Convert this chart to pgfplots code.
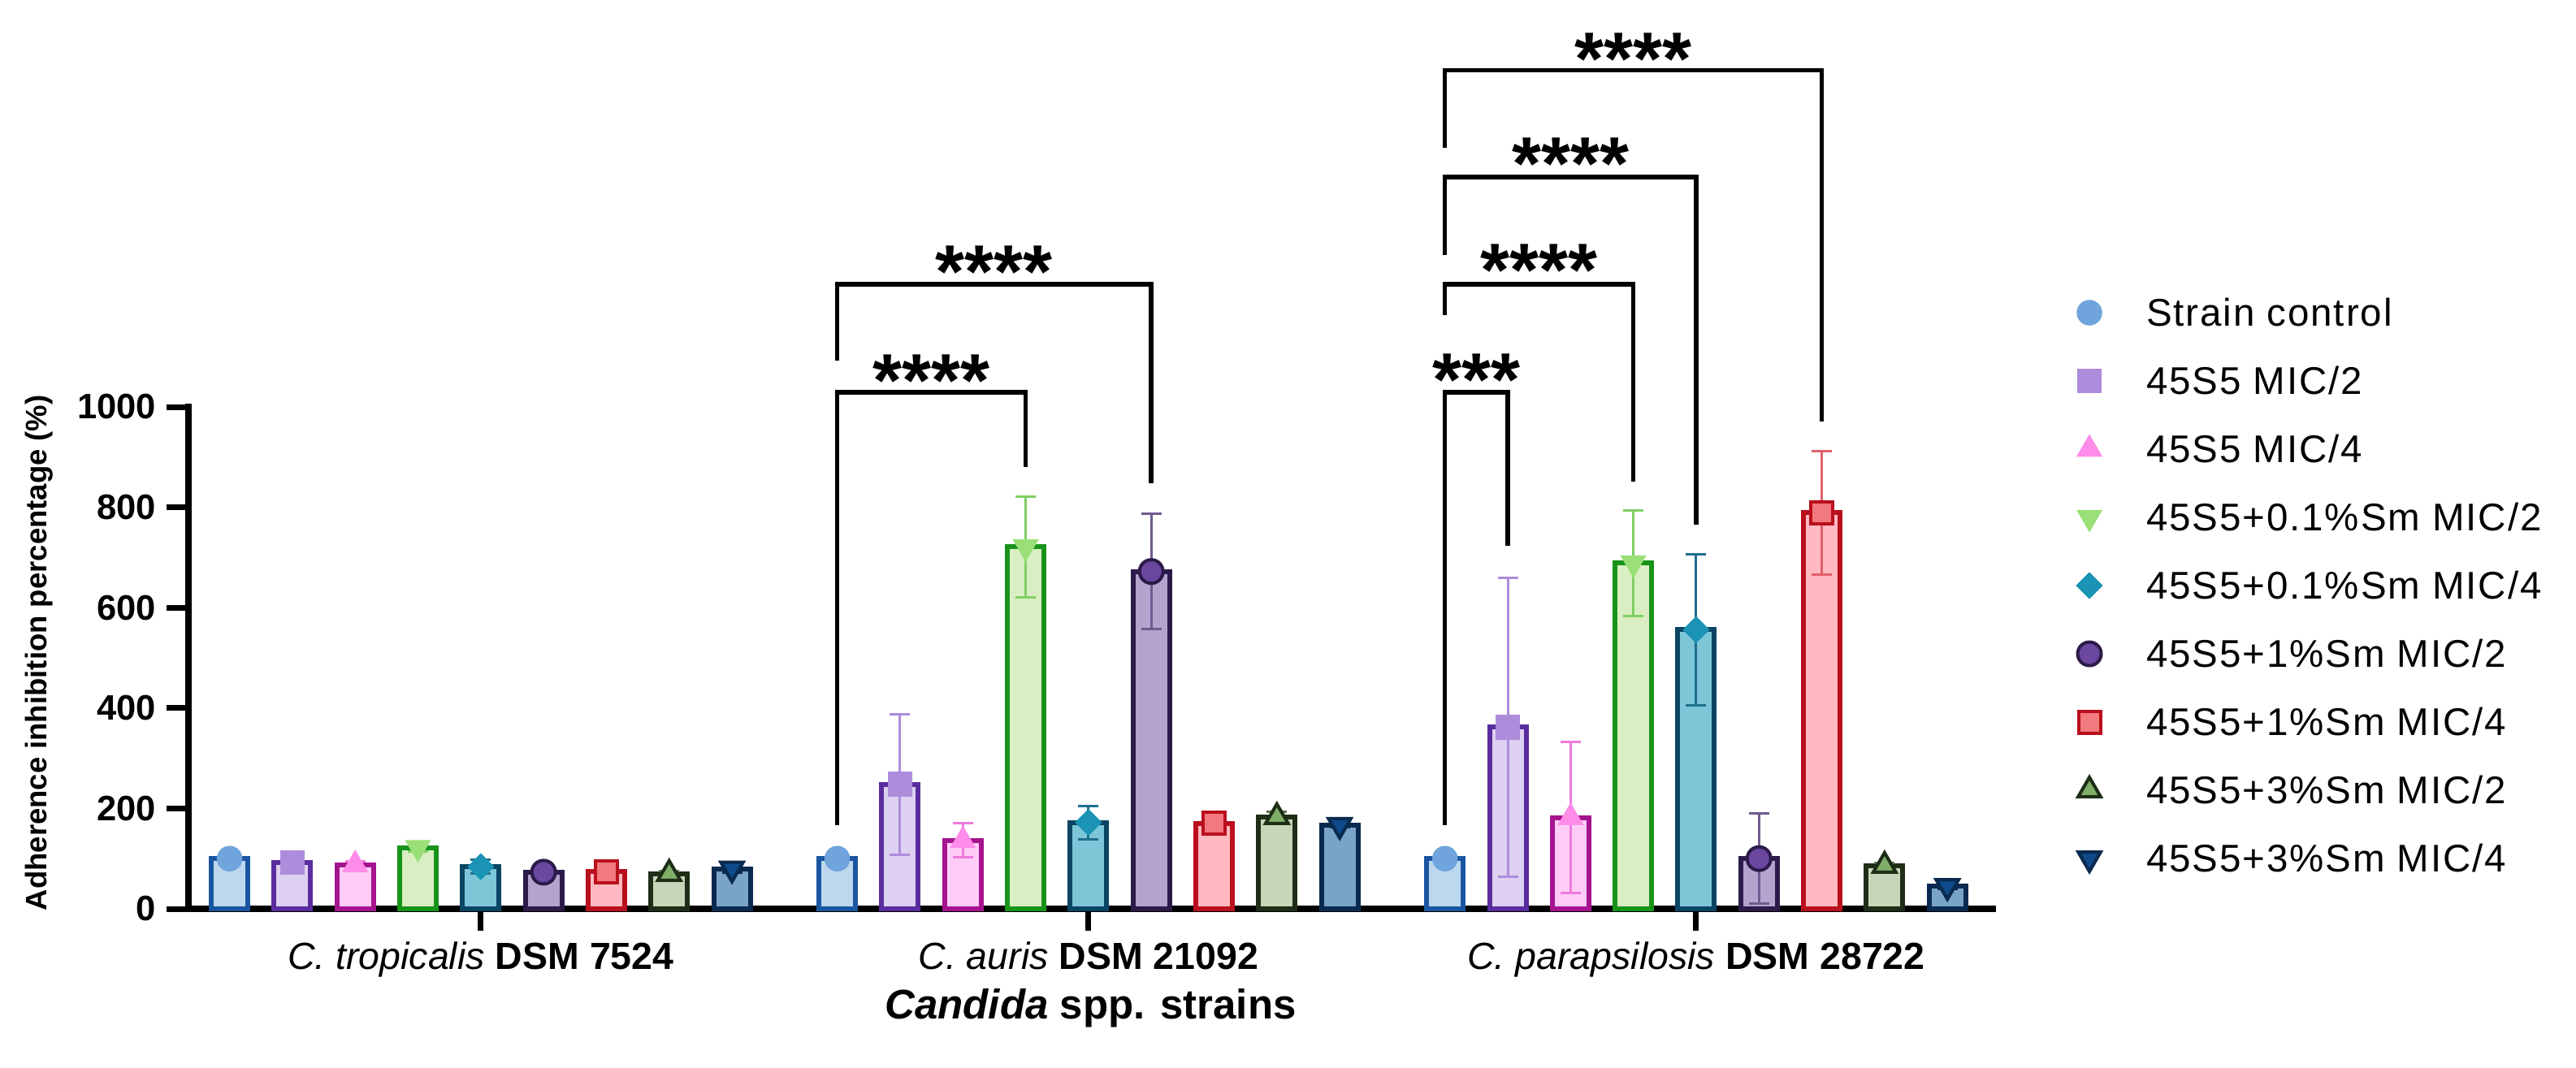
\documentclass[border=0pt]{standalone}
\usepackage{fontspec}
\setmainfont{Liberation Sans}
\newfontfamily\legfam[LetterSpace=4]{Liberation Sans}
\usepackage{pgfplots}
\pgfplotsset{compat=1.18}
\usepackage{pgfplotstable}

\definecolor{fA}{HTML}{BDD7EE}\definecolor{dA}{HTML}{1A56A0}\definecolor{mA}{HTML}{6FA4DC}\definecolor{eA}{HTML}{6FA4DC}
\definecolor{fB}{HTML}{DDD0F0}\definecolor{dB}{HTML}{5A2D9E}\definecolor{mB}{HTML}{AD8CDC}\definecolor{eB}{HTML}{AD8CDC}
\definecolor{fC}{HTML}{FFCCF7}\definecolor{dC}{HTML}{A5138F}\definecolor{mC}{HTML}{FF8CE8}\definecolor{eC}{HTML}{EE7ADD}
\definecolor{fD}{HTML}{D9EFC3}\definecolor{dD}{HTML}{17931A}\definecolor{mD}{HTML}{9ADF77}\definecolor{eD}{HTML}{7FCF63}
\definecolor{fE}{HTML}{7DC6D8}\definecolor{dE}{HTML}{0B4563}\definecolor{mE}{HTML}{1A93B4}\definecolor{eE}{HTML}{1E6F8E}
\definecolor{fF}{HTML}{B5A3CE}\definecolor{dF}{HTML}{2C1B4A}\definecolor{mF}{HTML}{6B47A0}\definecolor{eF}{HTML}{6E5B8F}
\definecolor{fG}{HTML}{FFB9C0}\definecolor{dG}{HTML}{BA0F1C}\definecolor{mG}{HTML}{F27A7E}\definecolor{eG}{HTML}{E05F6A}
\definecolor{fH}{HTML}{C5D7B8}\definecolor{dH}{HTML}{1E2D17}\definecolor{mH}{HTML}{7FAE68}\definecolor{eH}{HTML}{5E7A50}
\definecolor{fI}{HTML}{7AA3C9}\definecolor{dI}{HTML}{0A2A4F}\definecolor{mI}{HTML}{0F4A8A}\definecolor{eI}{HTML}{0A2A4F}

\pgfplotstableread{
x y e
-0.41336 100 4
0.58664 100 4
1.58664 100 4
}\sA
\pgfplotstableread{
x y e
-0.31002 92 6
0.68998 248 140
1.68998 362 298
}\sB
\pgfplotstableread{
x y e
-0.20668 88 6
0.79332 136 34
1.79332 182 150
}\sC
\pgfplotstableread{
x y e
-0.10334 122 8
0.89666 721 101
1.89666 689 105
}\sD
\pgfplotstableread{
x y e
0 84 14
1 172 33
2 556 150
}\sE
\pgfplotstableread{
x y e
0.10334 73 5
1.10334 672 115
2.10334 100 90
}\sF
\pgfplotstableread{
x y e
0.20668 74 5
1.20668 170 5
2.20668 789 123
}\sG
\pgfplotstableread{
x y e
0.31002 70 5
1.31002 183 10
2.31002 86 5
}\sH
\pgfplotstableread{
x y e
0.41336 80 8
1.41336 167 5
2.41336 45 5
}\sI

\newcommand\legfont{\legfam\fontsize{9.5}{11}\selectfont}
\newcommand\starfont{\fontsize{18.5}{20}\selectfont\bfseries}

\pgfplotsset{
  mybar/.style n args={3}{ybar, bar width=0.0602, bar shift=0pt, fill=#1, draw=#2, line width=1.2pt, forget plot,
    error bars/.cd, y dir=both, y explicit,
    error bar style={draw=#3, line width=0.6pt},
    error mark options={rotate=90, draw=#3, line width=0.6pt, mark size=2.5pt}},
  bracket/.style={black, line width=1.1pt, forget plot, mark=none, line join=miter}
}

\begin{document}
\begin{tikzpicture}
\useasboundingbox (-46.4pt,-39pt) rectangle (587.8pt,223.8pt);
\begin{axis}[
  scale only axis, width=444.2pt, height=123.6pt,
  xmin=-0.481, xmax=2.488, ymin=0, ymax=1000,
  clip=false,
  axis x line*=bottom, axis y line*=left,
  axis line style={line width=1.7pt, line cap=rect},
  xtick={0,1,2},
  xticklabels={{\itshape C. tropicalis} \bfseries DSM 7524, {\itshape C. auris} \bfseries DSM 21092, {\itshape C. parapsilosis} \bfseries DSM 28722},
  ytick={0,200,400,600,800,1000},
  tick align=outside, major tick length=5.4pt,
  tick style={black, line width=1.4pt},
  /pgf/number format/assume math mode=true,
  /pgf/number format/1000 sep={},
  yticklabel style={anchor=east, inner sep=0pt, xshift=-2.4pt, font=\fontsize{8.7}{10}\selectfont\bfseries},
  xticklabel style={anchor=base, inner sep=0pt, yshift=-9.5pt, font=\fontsize{9.3}{11}\selectfont},
  every axis x label/.style={at={(axis description cs:0.5,0)}, anchor=base, yshift=-27pt, inner sep=0pt, font=\fontsize{10.2}{12}\selectfont\bfseries},
  every axis y label/.style={at={(axis description cs:-0.08285,0.51)}, rotate=90, anchor=center, inner sep=0pt, font=\fontsize{7.3}{9}\selectfont\bfseries},
  xlabel={\itshape Candida\upshape{} spp. strains},
  ylabel={Adherence inhibition percentage (\%)},
  legend style={at={(axis description cs:1.04683,1.22411)}, anchor=north west, draw=none, fill=none,
    inner sep=0pt, outer sep=0pt, row sep=7.8pt, font=\legfont,
    nodes={inner sep=0pt, text height=7.8pt, text depth=1.2pt},
    cells={anchor=west},
    /tikz/every odd column/.style={column sep=3pt}},
  legend image code/.code={\path[draw=none,fill=none] (-3pt,-3pt) rectangle (11pt,3pt); \draw[#1] plot coordinates {(0pt,0pt)};},
]
% series 1
\addplot[mybar={fA}{dA}{eA}] table[x=x,y=y,y error=e] {\sA};
\addplot[only marks, mark=*, mark size=2.9pt, mark options={solid, fill=mA, draw=mA, line width=0.5pt}] table[x=x,y=y] {\sA};
\addlegendentry{Strain control}
% series 2
\addplot[mybar={fB}{dB}{eB}] table[x=x,y=y,y error=e] {\sB};
\addplot[only marks, mark=square*, mark size=2.8pt, mark options={solid, fill=mB, draw=mB, line width=0.5pt}] table[x=x,y=y] {\sB};
\addlegendentry{45S5 MIC/2}
% series 3
\addplot[mybar={fC}{dC}{eC}] table[x=x,y=y,y error=e] {\sC};
\addplot[only marks, mark=triangle*, mark size=3.2pt, mark options={solid, fill=mC, draw=mC, line width=0.5pt}] table[x=x,y=y] {\sC};
\addlegendentry{45S5 MIC/4}
% series 4
\addplot[mybar={fD}{dD}{eD}] table[x=x,y=y,y error=e] {\sD};
\addplot[only marks, mark=triangle*, mark size=3.2pt, mark options={solid, rotate=180, fill=mD, draw=mD, line width=0.5pt}] table[x=x,y=y] {\sD};
\addlegendentry{45S5+0.1\%Sm MIC/2}
% series 5
\addplot[mybar={fE}{dE}{eE}] table[x=x,y=y,y error=e] {\sE};
\addplot[only marks, mark=square*, mark size=2.1pt, mark options={solid, rotate=45, fill=mE, draw=mE, line width=0.5pt}] table[x=x,y=y] {\sE};
\addlegendentry{45S5+0.1\%Sm MIC/4}
% series 6
\addplot[mybar={fF}{dF}{eF}] table[x=x,y=y,y error=e] {\sF};
\addplot[only marks, mark=*, mark size=2.9pt, mark options={solid, fill=mF, draw=dF, line width=0.8pt}] table[x=x,y=y] {\sF};
\addlegendentry{45S5+1\%Sm MIC/2}
% series 7
\addplot[mybar={fG}{dG}{eG}] table[x=x,y=y,y error=e] {\sG};
\addplot[only marks, mark=square*, mark size=2.7pt, mark options={solid, fill=mG, draw=dG, line width=0.8pt}] table[x=x,y=y] {\sG};
\addlegendentry{45S5+1\%Sm MIC/4}
% series 8
\addplot[mybar={fH}{dH}{eH}] table[x=x,y=y,y error=e] {\sH};
\addplot[only marks, mark=triangle*, mark size=3.2pt, mark options={solid, fill=mH, draw=dH, line width=0.8pt}] table[x=x,y=y] {\sH};
\addlegendentry{45S5+3\%Sm MIC/2}
% series 9
\addplot[mybar={fI}{dI}{eI}] table[x=x,y=y,y error=e] {\sI};
\addplot[only marks, mark=triangle*, mark size=3.2pt, mark options={solid, rotate=180, fill=mI, draw=dI, line width=0.8pt}] table[x=x,y=y] {\sI};
\addlegendentry{45S5+3\%Sm MIC/4}

% significance brackets
\addplot[bracket] coordinates {(0.58664,167) (0.58664,1029) (0.89666,1029) (0.89666,880)};
\addplot[bracket] coordinates {(0.58664,1092) (0.58664,1244) (1.10334,1244) (1.10334,848)};
\addplot[bracket] coordinates {(1.58664,167) (1.58664,1029) (1.68998,1029) (1.68998,723)};
\addplot[bracket] coordinates {(1.58664,1183) (1.58664,1244) (1.89666,1244) (1.89666,851)};
\addplot[bracket] coordinates {(1.58664,1302) (1.58664,1458) (2,1458) (2,766)};
\addplot[bracket] coordinates {(1.58664,1516) (1.58664,1671) (2.20668,1671) (2.20668,971)};

\node[font=\starfont, anchor=base, yshift=-10.6pt, inner sep=0pt] at (axis cs:0.74165,1087) {****};
\node[font=\starfont, anchor=base, yshift=-10.6pt, inner sep=0pt] at (axis cs:0.84499,1303) {****};
\node[font=\starfont, anchor=base, yshift=-10.6pt, inner sep=0pt] at (axis cs:1.63831,1089) {***};
\node[font=\starfont, anchor=base, yshift=-10.6pt, inner sep=0pt] at (axis cs:1.74165,1306) {****};
\node[font=\starfont, anchor=base, yshift=-10.6pt, inner sep=0pt] at (axis cs:1.79332,1518) {****};
\node[font=\starfont, anchor=base, yshift=-10.6pt, inner sep=0pt] at (axis cs:1.89666,1728) {****};
\end{axis}
\end{tikzpicture}
\end{document}
